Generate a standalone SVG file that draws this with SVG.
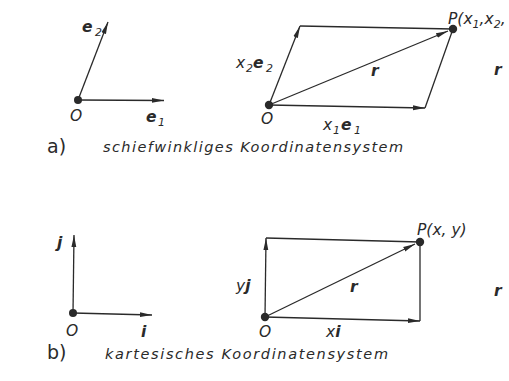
<svg xmlns="http://www.w3.org/2000/svg" width="509" height="381" viewBox="0 0 509 381">
<defs>
<marker id="ah" viewBox="0 0 12 6" refX="12" refY="3" markerWidth="12" markerHeight="6" markerUnits="userSpaceOnUse" orient="auto">
<path d="M0,0.6 L12,3 L0,5.4 Z" fill="#2a2a2a"/>
</marker>
<style>
.ln{stroke:#2a2a2a;stroke-width:1.3;fill:none}
.ar{stroke:#2a2a2a;stroke-width:1.3;fill:none;marker-end:url(#ah)}
.dot{fill:#2a2a2a}
text{font-family:"DejaVu Sans","Liberation Sans",sans-serif;fill:#2a2a2a}
.it{font-style:italic;font-size:15.5px}
.bi{font-style:italic;font-weight:bold;font-size:15.5px}
.sub{font-style:italic;font-size:11px}
.cap{font-style:italic;font-size:14.5px}
.lab{font-size:19px}
</style>
</defs>
<rect width="509" height="381" fill="#ffffff"/>
<g id="connectors">
<line class="ar" x1="78" y1="100" x2="108" y2="22"/>
<line class="ar" x1="78" y1="100" x2="164" y2="100.5"/>
<line class="ar" x1="269" y1="105" x2="300" y2="26"/>
<line class="ln" x1="300" y1="26" x2="453" y2="29"/>
<line class="ar" x1="269" y1="105" x2="448" y2="31"/>
<line class="ar" x1="269" y1="105" x2="425" y2="108"/>
<line class="ln" x1="425" y1="108" x2="453" y2="29"/>
<line class="ar" x1="73" y1="313" x2="74" y2="235"/>
<line class="ar" x1="73" y1="313" x2="152" y2="315"/>
<line class="ar" x1="265" y1="317" x2="266" y2="238"/>
<line class="ln" x1="266" y1="238" x2="420" y2="242"/>
<line class="ar" x1="265" y1="317" x2="415" y2="244"/>
<line class="ar" x1="265" y1="317" x2="420" y2="321"/>
<line class="ln" x1="420" y1="321" x2="420" y2="242"/>
</g>
<g id="node-a-origin">
<circle class="dot" cx="78" cy="100" r="4"/>
<text class="it" x="70" y="121">O</text>
</g>
<g id="node-a-e2">
<text class="bi" x="82" y="32">e</text><text class="sub" x="95" y="36">2</text>
</g>
<g id="node-a-e1">
<text class="bi" x="146" y="122">e</text><text class="sub" x="158" y="126">1</text>
</g>
<g id="node-a-O">
<circle class="dot" cx="269" cy="105" r="4.2"/>
<text class="it" x="261" y="124">O</text>
</g>
<g id="node-a-P">
<circle class="dot" cx="453" cy="29" r="4.2"/>
<text class="it" x="448" y="24">P(x<tspan class="sub" dy="4">1</tspan><tspan dy="-4">,x</tspan><tspan class="sub" dy="4">2</tspan><tspan dy="-4">,</tspan></text>
</g>
<g id="label-a-x2e2">
<text class="it" x="236" y="68">x</text><text class="sub" x="246" y="72">2</text><text class="bi" x="253" y="68">e</text><text class="sub" x="266" y="72">2</text>
</g>
<g id="label-a-x1e1">
<text class="it" x="323" y="130">x</text><text class="sub" x="333" y="134">1</text><text class="bi" x="341" y="130">e</text><text class="sub" x="354" y="134">1</text>
</g>
<g id="label-a-r">
<text class="bi" x="371" y="76">r</text>
<text class="bi" x="494" y="75">r</text>
</g>
<g id="caption-a">
<text class="lab" x="47" y="153">a)</text>
<text class="cap" x="103" y="152" textLength="300" lengthAdjust="spacing">schiefwinkliges Koordinatensystem</text>
</g>
<g id="node-b-origin">
<circle class="dot" cx="73" cy="313" r="4"/>
<text class="it" x="66" y="336">O</text>
<text class="bi" x="57" y="248">j</text>
<text class="bi" x="141" y="337">i</text>
</g>
<g id="node-b-O">
<circle class="dot" cx="265" cy="317" r="4.2"/>
<text class="it" x="259" y="337">O</text>
</g>
<g id="node-b-P">
<circle class="dot" cx="420" cy="242" r="4.2"/>
<text class="it" x="417" y="235">P(x, y)</text>
</g>
<g id="label-b">
<text x="236" y="291"><tspan class="it">y</tspan><tspan class="bi">j</tspan></text>
<text class="bi" x="350" y="292">r</text>
<text x="326" y="337"><tspan class="it">x</tspan><tspan class="bi">i</tspan></text>
<text class="bi" x="494" y="296">r</text>
</g>
<g id="caption-b">
<text class="lab" x="47" y="359">b)</text>
<text class="cap" x="105" y="359" textLength="283" lengthAdjust="spacing">kartesisches Koordinatensystem</text>
</g>
</svg>
